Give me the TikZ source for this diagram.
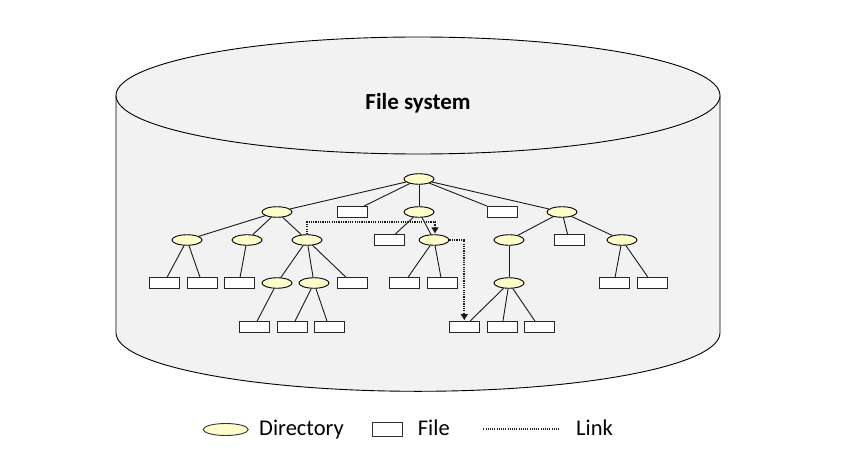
\documentclass[tikz,border=0pt]{standalone}
\usepackage{fontspec}
\setmainfont{Carlito}
\usetikzlibrary{shapes.geometric,arrows.meta}
\definecolor{cylfill}{HTML}{F2F2F2}
\definecolor{dirfill}{HTML}{FFFFCC}
\tikzset{
  dirnode/.style={ellipse,draw=black,line width=0.9pt,fill=dirfill,minimum width=30pt,minimum height=10.5pt,inner sep=0pt},
  filenode/.style={rectangle,draw=black!85,line width=0.9pt,fill=white,minimum width=30pt,minimum height=11pt,inner sep=0pt},
  edge/.style={draw=black!90,line width=0.9pt},
  linkline/.style={draw=black!90,line width=1.7pt,dash pattern=on 1.2pt off 1.1pt,-{Triangle[length=6pt,width=7pt,sep=1pt]}},
  legtext/.style={anchor=base west,inner sep=0pt,font=\fontsize{22.5}{27}\selectfont},
}
\begin{document}
\begin{tikzpicture}[x=1pt,y=-1pt]
\useasboundingbox (0,0) rectangle (848,460);
% cylinder
\fill[cylfill] (116,95.5) -- (116,332.8) arc[start angle=180,end angle=0,x radius=302,y radius=58.5] -- (720,95.5) -- cycle;
\draw[line width=0.9pt] (116,95.5) -- (116,332.8) arc[start angle=180,end angle=0,x radius=302,y radius=58.5] -- (720,95.5);
\draw[line width=0.9pt,fill=cylfill] (418,95.5) ellipse[x radius=302,y radius=58.5];
\node[anchor=base,inner sep=0pt,font=\bfseries\fontsize{23}{28}\selectfont] (title) at (418,109.3) {File system};
% level 0
\node[dirnode] (r) at (419,179) {};
% level 1
\node[dirnode] (a) at (277,212) {};
\node[filenode] (fa) at (352,212) {};
\node[dirnode] (b) at (419,212) {};
\node[filenode] (fb) at (502,212) {};
\node[dirnode] (c) at (562,212) {};
% level 2
\node[dirnode] (a1) at (187,240) {};
\node[dirnode] (a2) at (247,240) {};
\node[dirnode] (a3) at (307,240) {};
\node[filenode] (b0) at (389,240) {};
\node[dirnode] (b1) at (434,240) {};
\node[dirnode] (c1) at (509,240) {};
\node[filenode] (c2) at (569,240) {};
\node[dirnode] (c3) at (622,240) {};
% level 3
\node[filenode] (f1) at (164,283) {};
\node[filenode] (f2) at (202,283) {};
\node[filenode] (f3) at (239,283) {};
\node[dirnode] (d4) at (277,283) {};
\node[dirnode] (d5) at (314,283) {};
\node[filenode] (f6) at (352,283) {};
\node[filenode] (f7) at (404,283) {};
\node[filenode] (f8) at (442,283) {};
\node[dirnode] (d9) at (509,283) {};
\node[filenode] (f10) at (614,283) {};
\node[filenode] (f11) at (652,283) {};
% level 4
\node[filenode] (g1) at (254,327) {};
\node[filenode] (g2) at (292,327) {};
\node[filenode] (g3) at (329,327) {};
\node[filenode] (g4) at (464,327) {};
\node[filenode] (g5) at (502,327) {};
\node[filenode] (g6) at (539,327) {};
% edges
\foreach \p/\c in {r/a,r/fa,r/b,r/fb,r/c,
  a/a1,a/a2,a/a3,b/b0,b/b1,c/c1,c/c2,c/c3,
  a1/f1,a1/f2,a2/f3,a3/d4,a3/d5,a3/f6,b1/f7,b1/f8,c1/d9,c3/f10,c3/f11,
  d4/g1,d5/g2,d5/g3,d9/g4,d9/g5,d9/g6}
  \draw[edge] (\p) -- (\c);
% links
\coordinate (l1) at (307,222);
\coordinate (l2) at (435,222);
\coordinate (l3) at (464.3,240);
\draw[linkline] (a3.north) -- (l1) -- (l2) -- (l2 |- b1.north);
\draw[linkline] (b1.east) -- (l3) -- (l3 |- g4.north);
% legend
\node[ellipse,draw=black!80,line width=0.9pt,fill=dirfill,minimum width=45pt,minimum height=12pt,inner sep=0pt] (legdir) at (225.7,429.5) {};
\node[legtext] (legdirt) at (259,435.7) {Directory};
\node[rectangle,draw=black!80,line width=0.9pt,fill=white,minimum width=30pt,minimum height=14pt,inner sep=0pt] (legfile) at (387.7,429) {};
\node[legtext] (legfilet) at (417.7,435.7) {File};
\coordinate (lk1) at (483.3,429);
\coordinate (lk2) at (558.3,429);
\draw[draw=black!85,line width=1.1pt,dash pattern=on 1.1pt off 1.1pt] (lk1) -- (lk2);
\node[legtext] (leglinkt) at (576,435.7) {Link};
\end{tikzpicture}
\end{document}
